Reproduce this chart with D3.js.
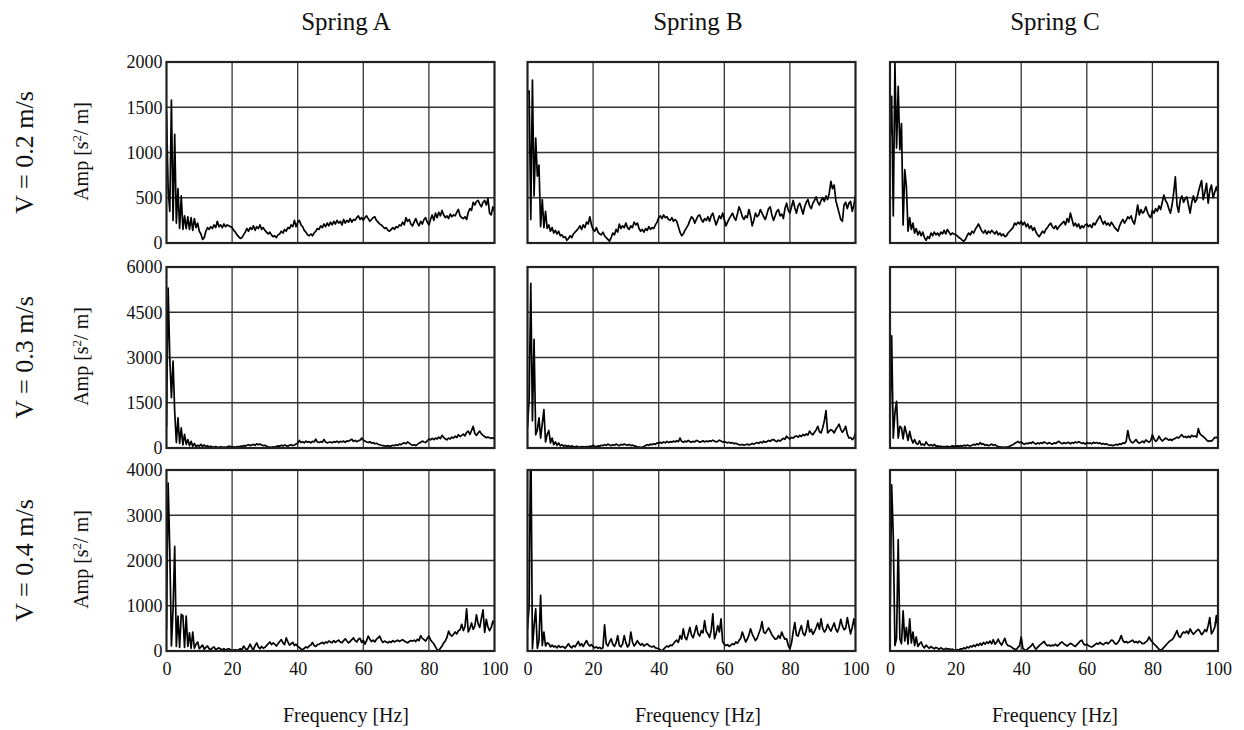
<!DOCTYPE html>
<html>
<head>
<meta charset="utf-8">
<script src="https://cdn.jsdelivr.net/npm/d3@7"></script>
<style>
body { margin: 0; background: #fff; }
svg text { font-family: "Liberation Serif", "Times New Roman", serif; fill: #111; }
</style>
</head>
<body>
<div id="chart"></div>
<script>
// panel labels and axis ticks
const springs = ["Spring A", "Spring B", "Spring C"];
const speeds = ["V = 0.2 m/s", "V = 0.3 m/s", "V = 0.4 m/s"];
const ampTicks = [[0, 500, 1000, 1500, 2000], [0, 1500, 3000, 4500, 6000], [0, 1000, 2000, 3000, 4000]];
const freqTicks = [0, 20, 40, 60, 80, 100];
const freqStep = 0.5; // Hz between samples, 0..100 Hz

// amplitude spectra [s^2/m], one value every 0.5 Hz
const ampA02 = [
  1450,600,350,1580,250,1200,220,600,160,520,150,300,160,290,150,280,140,270,170,220,
  130,100,40,60,130,170,150,180,160,200,170,240,180,200,170,210,180,200,190,180,
  170,140,120,90,70,50,60,90,120,160,130,170,150,190,140,180,160,200,150,170,
  140,120,100,120,90,70,80,60,90,100,130,110,150,130,170,160,200,180,250,180,
  230,250,200,180,140,120,90,80,100,80,110,130,160,150,190,170,210,180,220,190,
  230,200,240,210,250,220,240,200,260,220,250,230,270,230,260,250,280,300,260,280,
  250,280,300,270,240,260,280,290,250,230,210,200,180,160,170,140,130,150,170,150,
  180,170,200,190,230,200,280,240,260,210,190,230,270,220,190,240,210,260,280,230,
  200,260,310,250,330,280,340,300,360,310,280,300,270,320,290,310,300,340,370,300,
  280,270,290,260,340,380,360,450,420,460,470,430,400,450,470,420,490,330,310,400,
  350];
const ampB02 = [
  1650,1680,260,1800,520,1160,740,860,180,480,170,350,160,200,130,170,110,140,100,130,
  80,90,60,70,30,50,80,60,100,120,140,160,190,150,200,170,230,210,290,200,
  150,130,170,120,100,90,120,80,60,40,20,60,110,90,150,120,210,160,190,170,
  220,170,150,190,170,230,200,220,160,130,150,120,160,140,180,150,170,160,200,230,
  280,300,270,310,280,290,260,250,280,240,260,240,180,120,80,100,140,170,200,250,
  290,270,220,260,300,310,260,230,270,250,290,240,300,330,260,200,250,300,270,330,
  260,190,230,270,300,330,280,250,320,400,350,290,260,300,280,370,300,190,250,330,
  290,310,370,330,290,260,320,380,400,310,250,300,350,370,300,320,270,380,440,360,
  330,400,470,390,330,410,440,380,320,400,450,480,410,380,440,470,510,450,420,470,
  500,460,520,480,550,680,600,640,470,400,330,260,240,420,450,380,440,460,350,420,
  530];
const ampC02 = [
  1100,1620,300,1990,1050,1730,1030,1320,200,810,620,130,280,150,220,110,160,90,130,80,
  120,60,30,70,50,110,80,120,90,110,80,120,100,140,100,150,120,90,110,100,
  90,80,60,50,30,20,40,80,110,90,130,110,150,180,210,170,130,110,140,100,
  130,110,140,120,100,130,90,110,80,100,70,80,110,130,150,170,220,200,230,210,
  240,200,230,180,210,160,190,140,170,120,90,70,100,130,110,150,170,200,220,180,
  160,190,150,180,200,220,240,200,270,230,330,260,190,220,180,210,160,190,170,200,
  210,180,200,170,220,200,240,270,300,250,210,240,200,220,190,230,200,170,150,130,
  190,230,260,220,250,290,270,300,240,210,300,420,310,370,330,350,400,340,300,280,
  360,330,380,350,410,370,450,530,470,440,380,330,420,560,730,420,340,480,520,450,
  490,510,420,330,450,520,450,480,560,630,690,480,560,660,440,580,640,500,560,620,
  550];

const ampA03 = [
  700,5300,3000,1670,2880,1200,180,1000,150,670,100,450,120,280,80,220,60,150,50,90,
  60,120,50,100,40,80,30,60,40,30,50,30,20,40,30,20,30,40,60,50,
  30,40,20,50,40,60,50,80,60,90,110,80,100,120,90,140,110,130,100,80,
  90,60,40,30,20,40,30,50,70,60,90,70,100,80,60,90,110,80,100,130,
  160,250,180,210,170,230,190,210,170,220,200,290,200,180,210,190,280,200,170,190,
  200,170,210,190,230,180,220,200,230,190,240,220,260,290,220,250,210,240,260,330,
  260,230,200,180,210,160,180,140,160,120,110,90,80,70,60,80,50,70,90,80,
  110,90,130,110,150,170,140,200,160,120,90,110,80,120,160,190,230,200,180,240,
  300,270,320,280,330,300,360,310,420,350,300,270,330,300,360,330,390,350,440,380,
  420,460,400,520,560,450,580,720,480,420,500,560,470,420,380,340,360,340,320,340,
  300];
const ampB03 = [
  670,1600,5460,900,3600,440,600,1000,330,800,1270,200,450,580,170,330,110,200,90,170,
  70,110,60,90,50,80,40,70,50,40,60,40,30,50,40,30,50,40,60,50,
  90,60,40,70,60,90,80,110,90,130,100,80,110,90,130,100,80,120,100,130,
  110,90,120,80,100,70,60,40,30,20,30,50,80,110,90,130,110,140,120,170,
  150,190,160,200,170,220,180,210,190,230,200,240,210,330,220,190,230,200,250,210,
  190,220,200,250,230,190,210,240,200,230,210,240,220,260,230,200,220,260,230,200,
  210,190,170,190,160,180,140,160,130,110,100,120,90,110,130,100,120,150,120,160,
  180,150,200,170,230,190,210,250,220,270,280,240,210,260,230,280,320,290,390,330,
  300,350,330,380,400,360,420,380,450,410,470,430,560,480,440,520,600,720,540,500,
  670,900,1240,500,560,610,570,500,620,700,790,620,520,600,720,460,330,350,280,330,
  500];
const ampC03 = [
  670,3720,330,1170,1550,330,720,670,300,720,500,250,550,300,170,280,150,120,240,100,
  130,90,200,120,80,110,70,120,60,70,50,60,40,50,40,60,30,50,70,60,
  50,70,60,80,60,90,70,100,80,70,90,120,100,140,110,180,120,140,90,110,
  80,100,130,90,110,70,50,40,30,20,30,20,40,60,90,110,150,180,220,170,
  200,150,120,160,140,180,150,200,160,130,170,140,180,150,200,170,140,180,150,130,
  170,150,190,220,170,140,180,150,170,190,140,180,160,200,170,210,180,150,170,130,
  180,150,170,140,190,160,180,150,170,130,150,120,140,110,90,100,80,100,120,100,
  140,120,170,150,220,580,300,200,170,220,280,200,160,190,230,180,270,220,190,250,
  440,300,220,270,390,300,230,280,330,300,260,290,250,300,320,360,330,390,440,360,
  380,340,390,350,420,380,400,360,640,470,420,380,330,270,220,240,230,280,350,340,
  380];

const ampA04 = [
  480,3710,2240,110,920,2310,100,770,80,810,780,80,770,100,400,60,420,60,150,200,
  50,90,130,40,80,110,50,30,70,90,30,50,70,40,30,50,20,40,50,30,
  10,20,30,10,30,50,20,110,60,20,80,150,70,30,120,180,90,50,100,60,
  80,120,160,200,140,180,150,110,160,210,250,180,140,290,200,130,160,190,120,150,
  100,80,40,30,60,90,70,110,130,190,120,100,140,150,170,190,160,200,180,220,
  200,180,230,190,220,240,200,180,230,270,220,180,210,250,290,230,200,260,280,190,
  240,150,230,330,260,210,240,200,260,290,330,240,190,220,200,180,210,190,230,200,
  220,240,210,230,250,220,200,180,210,230,220,240,210,260,230,340,280,250,220,280,
  330,250,200,160,90,30,10,60,110,180,220,300,440,360,330,370,420,380,450,470,
  590,450,540,930,420,500,620,480,550,800,600,520,720,910,410,700,530,450,520,660,
  600];
const ampB04 = [
  490,1000,5000,50,560,930,60,230,1230,120,420,110,180,160,90,130,90,110,70,120,
  80,100,90,60,110,160,100,70,120,90,150,210,120,160,100,170,230,150,110,140,
  100,70,90,60,80,50,70,580,160,110,200,270,150,100,180,340,120,90,160,340,
  180,90,140,420,200,110,160,230,170,130,160,110,140,160,120,100,90,110,70,60,
  50,20,0,40,80,110,90,130,120,160,210,240,190,340,260,490,300,250,380,520,
  350,290,420,560,380,330,450,400,670,430,380,300,450,820,270,380,560,420,710,200,
  150,120,140,100,130,160,140,200,170,230,280,420,310,200,260,350,490,380,300,230,
  280,380,480,650,420,390,450,510,440,360,310,260,270,340,280,420,330,260,270,120,
  50,180,420,630,350,330,460,560,390,340,450,670,420,480,370,430,520,620,480,710,
  500,420,470,590,500,440,530,620,480,420,520,700,560,470,500,740,550,380,520,710,
  480];
const ampC04 = [
  420,3670,2530,120,280,2460,270,160,890,220,520,150,710,180,420,120,310,100,160,200,
  110,70,130,90,60,100,70,50,80,60,40,70,50,30,60,40,50,30,40,20,
  10,30,20,50,40,70,50,90,70,110,90,130,100,150,120,170,130,190,150,200,
  170,220,160,250,150,190,260,180,130,200,280,160,120,110,90,60,40,30,80,120,
  310,60,30,10,50,80,110,160,90,40,80,120,150,180,210,150,120,130,110,130,
  120,150,110,140,180,200,160,130,110,140,170,150,120,100,140,180,220,240,160,130,
  150,120,100,90,110,140,170,150,190,160,140,170,190,160,200,240,230,170,150,190,
  250,340,230,190,210,180,200,220,240,190,210,180,220,190,160,170,200,230,310,240,
  200,150,120,80,40,15,40,80,120,160,200,230,250,300,370,450,330,300,380,420,
  400,440,380,490,420,370,410,450,480,430,360,400,470,430,560,740,380,440,520,780,
  500];

const series = [
  [ampA02, ampB02, ampC02],
  [ampA03, ampB03, ampC03],
  [ampA04, ampB04, ampC04]
];

// layout
const W = 1244, H = 730;
const colX = [166.5, 527.5, 890];
const rowY = [62, 267, 470];
const pw = 328, ph = 181;
const labelX = [346, 698, 1055];
const font = "Liberation Serif, serif";

const svg = d3.select("#chart").append("svg")
  .attr("width", W)
  .attr("height", H);

const x = d3.scaleLinear().domain([0, 100]).range([0, pw]);

function styleTicks(ax) {
  ax.select(".domain").remove();
  ax.attr("font-family", font).attr("font-size", 18);
  ax.selectAll("text")
    .attr("font-family", font)
    .attr("font-size", 18)
    .attr("fill", "#111");
}

series.forEach((row, r) => {
  const ticks = ampTicks[r];
  const y = d3.scaleLinear().domain([0, ticks[ticks.length - 1]]).range([ph, 0]);

  row.forEach((vals, c) => {
    const g = svg.append("g").attr("transform", `translate(${colX[c]},${rowY[r]})`);
    const clipId = `clip-${r}-${c}`;
    g.append("clipPath").attr("id", clipId)
      .append("rect").attr("width", pw).attr("height", ph);

    // grid
    g.append("g").selectAll("line")
      .data(freqTicks.slice(1, -1))
      .join("line")
      .attr("x1", d => x(d)).attr("x2", d => x(d))
      .attr("y1", 0).attr("y2", ph)
      .attr("stroke", "#333").attr("stroke-width", 1.3);
    g.append("g").selectAll("line")
      .data(ticks.slice(1, -1))
      .join("line")
      .attr("x1", 0).attr("x2", pw)
      .attr("y1", d => y(d)).attr("y2", d => y(d))
      .attr("stroke", "#333").attr("stroke-width", 1.3);

    // spectrum
    const line = d3.line()
      .x((d, i) => x(i * freqStep))
      .y(d => y(d));
    g.append("path")
      .datum(vals)
      .attr("clip-path", `url(#${clipId})`)
      .attr("d", line)
      .attr("fill", "none")
      .attr("stroke", "#000")
      .attr("stroke-width", 1.7)
      .attr("stroke-linejoin", "round");

    // frame
    g.append("rect")
      .attr("width", pw).attr("height", ph)
      .attr("fill", "none")
      .attr("stroke", "#222")
      .attr("stroke-width", 2.2);

    if (c === 0) {
      const ax = g.append("g")
        .call(d3.axisLeft(y).tickValues(ticks).tickFormat(d3.format("d")).tickSize(0).tickPadding(4));
      styleTicks(ax);
    }
    if (r === 2) {
      const ax = g.append("g")
        .attr("transform", `translate(0,${ph})`)
        .call(d3.axisBottom(x).tickValues(freqTicks).tickFormat(d3.format("d")).tickSize(0).tickPadding(11));
      styleTicks(ax);
    }
  });

  // row labels
  const cy = rowY[r] + ph / 2;
  svg.append("text")
    .attr("transform", `translate(33,${cy}) rotate(-90)`)
    .attr("text-anchor", "middle")
    .attr("font-size", 26)
    .text(speeds[r]);

  const amp = svg.append("text")
    .attr("transform", `translate(88,${cy - 1}) rotate(-90)`)
    .attr("text-anchor", "middle")
    .attr("font-size", 20);
  amp.append("tspan").text("Amp [s");
  amp.append("tspan").attr("dy", -7).attr("font-size", 13).text("2");
  amp.append("tspan").attr("dy", 7).text("/ m]");
});

// column titles and x-axis labels
springs.forEach((s, c) => {
  svg.append("text")
    .attr("x", labelX[c]).attr("y", 30)
    .attr("text-anchor", "middle")
    .attr("font-size", 25)
    .text(s);
  svg.append("text")
    .attr("x", labelX[c]).attr("y", 722)
    .attr("text-anchor", "middle")
    .attr("font-size", 20)
    .text("Frequency [Hz]");
});
</script>
</body>
</html>
